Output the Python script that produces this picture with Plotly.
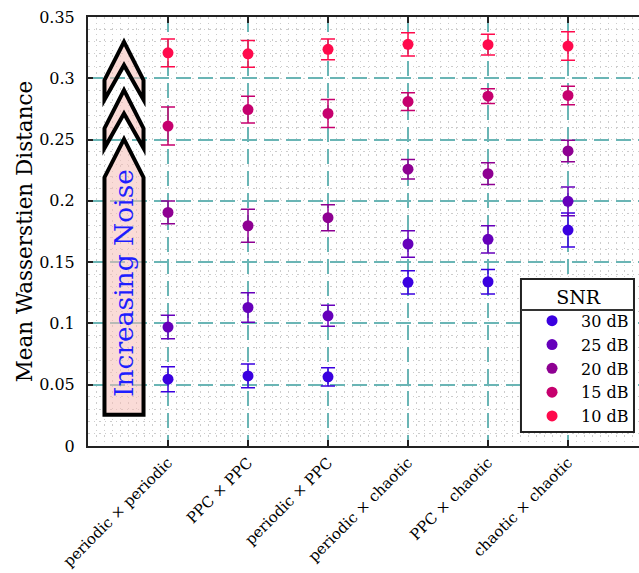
import plotly.graph_objects as go

categories = ["periodic × periodic", "PPC × PPC", "periodic × PPC",
              "periodic × chaotic", "PPC × chaotic", "chaotic × chaotic"]
snr_labels = ["30 dB", "25 dB", "20 dB", "15 dB", "10 dB"]

snr30 = [0.0545, 0.0572, 0.0564, 0.1335, 0.1340, 0.1762]
err30 = [0.0102, 0.0096, 0.0075, 0.0094, 0.0100, 0.0139]
snr25 = [0.0970, 0.1130, 0.1062, 0.1648, 0.1686, 0.1996]
err25 = [0.0096, 0.0120, 0.0086, 0.0109, 0.0111, 0.0118]
snr20 = [0.1906, 0.1797, 0.1863, 0.2258, 0.2222, 0.2407]
err20 = [0.0093, 0.0134, 0.0106, 0.0079, 0.0089, 0.0088]
snr15 = [0.2610, 0.2745, 0.2713, 0.2810, 0.2854, 0.2860]
err15 = [0.0155, 0.0109, 0.0114, 0.0072, 0.0060, 0.0075]
snr10 = [0.3208, 0.3200, 0.3236, 0.3277, 0.3274, 0.3263]
err10 = [0.0113, 0.0109, 0.0085, 0.0095, 0.0085, 0.0116]

means = [snr30, snr25, snr20, snr15, snr10]
errs = [err30, err25, err20, err15, err10]
colors = ["#3a00e0", "#6600bb", "#8e0092", "#c6006e", "#ff0a4c"]

FONT = "DejaVu Serif"
xpos = list(range(len(categories)))

fig = go.Figure()
for lab, m, e, c in zip(snr_labels, means, errs, colors):
    fig.add_trace(go.Scatter(
        x=xpos, y=m, mode="markers", name=lab,
        marker=dict(color=c, size=11),
        error_y=dict(type="data", array=e, color=c, thickness=1.5, width=7),
    ))

# Increasing-noise arrow decoration (axis coordinates)
xl, xm, xr = -0.794, -0.55, -0.306
def chevron(tip, shoulder, bottom, notch):
    return (f"M {xm},{tip} L {xr},{shoulder} L {xr},{bottom} L {xm},{notch} "
            f"L {xl},{bottom} L {xl},{shoulder} Z")
arrow_paths = [
    chevron(0.3297, 0.2985, 0.2825, 0.3107),
    chevron(0.2903, 0.2591, 0.2431, 0.2713),
    f"M {xm},0.2503 L {xr},0.2191 L {xr},0.0255 L {xl},0.0255 L {xl},0.2191 Z",
]
for p in arrow_paths:
    fig.add_shape(type="path", path=p, xref="x", yref="y",
                  fillcolor="rgba(245,190,182,0.55)",
                  line=dict(color="black", width=4), layer="above")

fig.add_annotation(x=xm, y=0.133, xref="x", yref="y", text="Increasing Noise",
                   textangle=-90, showarrow=False,
                   font=dict(family=FONT, size=26.5, color="#1e1eff"))

# legend frame and title separator (legend itself is transparent)
fig.add_shape(type="rect", xref="paper", yref="paper",
              x0=0.7858, x1=0.9909, y0=0.0326, y1=0.3893,
              fillcolor="white", line=dict(color="#222222", width=2), layer="above")
fig.add_shape(type="line", xref="paper", yref="paper",
              x0=0.7858, x1=0.9909, y0=0.317, y1=0.317,
              line=dict(color="#333333", width=2), layer="above")

fig.update_layout(
    width=639, height=573,
    margin=dict(l=88, r=0, t=17, b=127, autoexpand=False),
    paper_bgcolor="white", plot_bgcolor="white",
    font=dict(family=FONT, size=16, color="black"),
    showlegend=True,
    legend=dict(
        x=0.991, xanchor="right", y=0.03, yanchor="bottom",
        bgcolor="rgba(0,0,0,0)", borderwidth=0,
        title=dict(text="SNR", side="top center", font=dict(size=19)),
        font=dict(size=16), itemwidth=48,
        tracegroupgap=0,
    ),
)

fig.update_xaxes(
    range=[-1.0, 5.8875], tickmode="array", tickvals=xpos, ticktext=categories,
    tickangle=-45, tickfont=dict(size=15),
    showline=True, linecolor="#222222", linewidth=2, mirror="ticks",
    ticks="inside", ticklen=6, tickwidth=2, tickcolor="#222222",
    showgrid=True, gridcolor="#6ab5b5", gridwidth=2, griddash="15px,7px",
    zeroline=False, automargin=False,
    minor=dict(tickmode="linear", tick0=0, dtick=0.1, showgrid=True,
               gridcolor="#cccccc", gridwidth=1, griddash="1.5px,4px", ticks=""),
)
fig.update_yaxes(
    range=[0, 0.35], tickmode="array",
    tickvals=[0, 0.05, 0.1, 0.15, 0.2, 0.25, 0.3, 0.35],
    ticktext=["0", "0.05", "0.1", "0.15", "0.2", "0.25", "0.3", "0.35"],
    tickfont=dict(size=16), ticklabelstandoff=8,
    showline=True, linecolor="#222222", linewidth=2, mirror=False,
    ticks="inside", ticklen=5, tickwidth=2, tickcolor="#222222",
    showgrid=True, gridcolor="#6ab5b5", gridwidth=2, griddash="15px,7px",
    zeroline=False, automargin=False,
    title=dict(text="Mean Wasserstien Distance", font=dict(size=21.5), standoff=1),
    minor=dict(tickmode="linear", tick0=0, dtick=0.01, showgrid=True,
               gridcolor="#cccccc", gridwidth=1, griddash="1.5px,4px", ticks=""),
)

fig.write_html("out.html")
